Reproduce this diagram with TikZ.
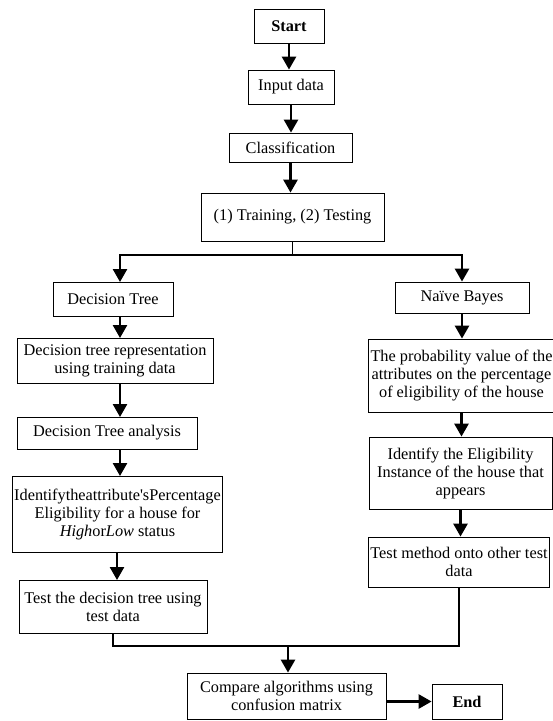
\documentclass[tikz,border=0pt]{standalone}
\usepackage{fontspec}
\setmainfont{Liberation Serif}
\usetikzlibrary{arrows.meta}
\tikzset{
  box/.style={draw, line width=0.8pt, align=center, inner xsep=2pt, inner ysep=1pt, font=\fontsize{16.3}{18}\selectfont},
  flow/.style={line width=2.6pt, -{Triangle[length=13pt,width=14pt]}},
  link/.style={line width=1.2pt},
}
\begin{document}
\begin{tikzpicture}[x=1pt, y=-1pt]
    \useasboundingbox (0,0) rectangle (553,721);
    % main column
    \node[box, minimum width=70pt, minimum height=34pt] (start) at (289,26) {\textbf{Start}};
    \node[box, minimum width=86pt, minimum height=34pt] (input) at (291,87) {Input data};
    \node[box, minimum width=123pt, minimum height=29pt] (classif) at (290.5,147.5) {Classification};
    \node[box, minimum width=183pt, minimum height=48pt] (train) at (292.5,217) {(1) Training, (2) Testing};
    % decision tree branch
    \node[box, minimum width=120pt, minimum height=34pt] (dtree) at (113,299) {Decision Tree};
    \node[box, minimum width=196pt, minimum height=45pt] (dtrep) at (115,360.5) {Decision tree representation\\using training data};
    \node[box, minimum width=180pt, minimum height=32pt] (dtana) at (107,433) {Decision Tree analysis};
    \node[box, minimum width=209pt, minimum height=76pt] (dtid) at (117.5,514) {Identifytheattribute\textquotesingle sPercentage\\Eligibility for a house for\\\textit{High}or\textit{Low} status};
    \node[box, minimum width=188pt, minimum height=53pt] (dttest) at (113,606.5) {Test the decision tree using\\test data};
    % naive bayes branch
    \node[box, minimum width=134pt, minimum height=31pt] (nb) at (462,297.5) {Naïve Bayes};
    \node[box, minimum width=181pt, minimum height=73pt] (nbprob) at (461.5,375.5) {The probability value of the\\attributes on the percentage\\of eligibility of the house};
    \node[box, minimum width=183pt, minimum height=72pt] (nbid) at (460.5,473) {Identify the Eligibility\\Instance of the house that\\appears};
    \node[box, minimum width=180pt, minimum height=50pt] (nbtest) at (459,562) {Test method onto other test\\data};
    % comparison
    \node[box, minimum width=199pt, minimum height=46pt] (compare) at (286.5,696) {Compare algorithms using\\confusion matrix};
    \node[box, minimum width=70pt, minimum height=35pt] (end) at (467,701.5) {\textbf{End}};
    \coordinate (split) at (292.5,255);
    \coordinate (merge) at (288,646);

    \draw[flow] (start.south) -- (start.south |- input.north);
    \draw[flow] (input.south) -- (input.south |- classif.north);
    \draw[flow] (classif.south) -- (classif.south |- train.north);
    \draw[link] (train.south) -- (split);
    \draw[link] (split) -| (120,270);
    \draw[link] (split) -| (462,270);
    \draw[flow] (120,254.4) -- (120,282);
    \draw[flow] (nb.north |- split) -- (nb.north);
    \draw[flow] (120,316) -- (120,338);
    \draw[flow] (120,383) -- (120,417);
    \draw[flow] (120,449) -- (120,476);
    \draw[flow] (117,552) -- (117,580);
    \draw[flow] (nb.south) -- (nb.south |- nbprob.north);
    \draw[flow] (nbprob.south) -- (nbprob.south |- nbid.north);
    \draw[flow] (nbid.south) -- (nbid.south |- nbtest.north);
    \draw[link] (dttest.south) |- (merge) -| (nbtest.south);
    \draw[flow] (merge) -- (merge |- compare.north);
    \draw[flow] (end.west -| compare.east) -- (end.west);
\end{tikzpicture}
\end{document}
